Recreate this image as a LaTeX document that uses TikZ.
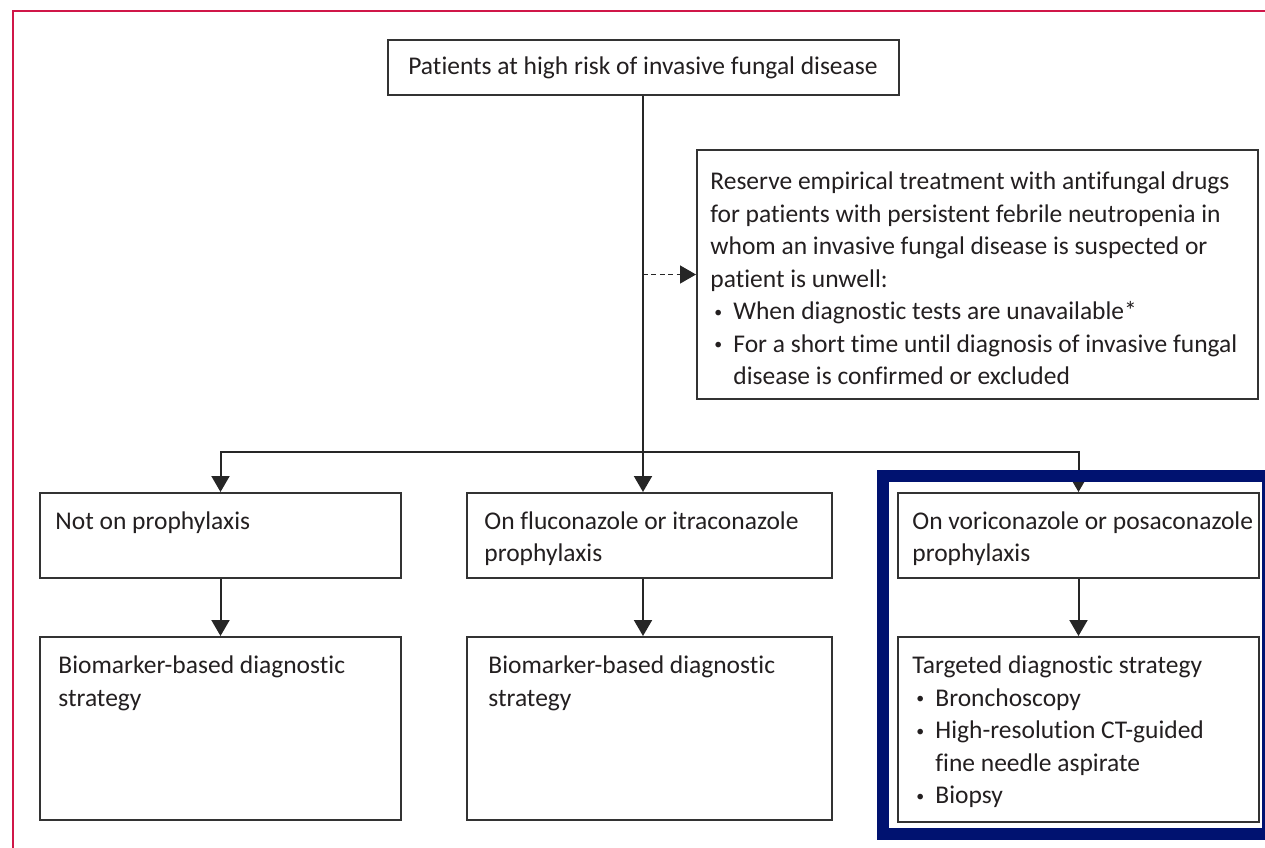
\documentclass[tikz,border=0pt]{standalone}
\usepackage{fontspec}
\setmainfont{Carlito}[Ligatures=NoCommon]
\usepackage{tikz}
\usetikzlibrary{arrows.meta}
\definecolor{lcred}{RGB}{208,22,72}
\definecolor{lcblue}{RGB}{0,18,112}
\definecolor{lcink}{RGB}{35,31,32}
\newcommand{\blt}{\makebox[11.5pt][l]{\hspace{2pt}\raisebox{1.3pt}{\scalebox{0.62}{\textbullet}}}}
\newcommand{\bltind}{\hspace*{11.5pt}}

\begin{document}
\begin{tikzpicture}[
    x=0.5pt, y=-0.5pt,
    box/.style={draw=black!80, line width=1pt, fill=white, inner sep=0pt},
    txt/.style={anchor=north west, inner sep=0pt, align=left, text=lcink,
      font=\fontsize{12.75}{16.25}\selectfont, execute at begin node=\strut},
    link/.style={draw=black!85, line width=1pt},
    arr/.style={link, -{Triangle[length=8pt, width=9pt]}},
    dasharr/.style={draw=black!85, line width=0.75pt, dash pattern=on 2.5pt off 1.7pt,
      -{Triangle[length=8pt, width=9pt]}},
    frame/.style={draw=lcred, line width=1pt},
    hilite/.style={draw=lcblue, line width=6pt}
  ]
  \useasboundingbox (0,0) rectangle (1265,847);
  \draw[frame] (12.5,900) |- (1300,10.5);

  % boxes
  \node[box, minimum width=255.5pt, minimum height=27.5pt, text=lcink,
    font=\fontsize{12.75}{16.25}\selectfont] (risk) at (643,67.5)
    {Patients at high risk of invasive fungal disease};
  \node[box, minimum width=280.5pt, minimum height=124.5pt] (reserve) at (977.5,274.5) {};
  \node[box, minimum width=180.5pt, minimum height=42.5pt] (nopro) at (220.5,535.5) {};
  \node[box, minimum width=182.5pt, minimum height=42.5pt] (fluco) at (649.5,535.5) {};
  \node[box, minimum width=180.5pt, minimum height=42.5pt] (vori) at (1078.5,535.5) {};
  \node[box, minimum width=180.5pt, minimum height=91.5pt] (bioa) at (220.5,728.5) {};
  \node[box, minimum width=182.5pt, minimum height=91.5pt] (biob) at (649.5,728.5) {};
  \node[box, minimum width=180.5pt, minimum height=92.5pt] (target) at (1078.5,729.5) {};

  % texts
  \node[txt] (reservetxt) at (710,171.5) {Reserve empirical treatment with antifungal drugs\\
    for patients with persistent febrile neutropenia in\\
    whom an invasive fungal disease is suspected or\\
    patient is unwell:\\
    \blt When diagnostic tests are unavailable*\\
    \blt For a short time until diagnosis of invasive fungal\\
    \bltind disease is confirmed or excluded};
  \node[txt] (noprotxt) at (55,506.25) {Not on prophylaxis};
  \node[txt] (flucotxt) at (484,511) {On fluconazole or itraconazole\\prophylaxis};
  \node[txt] (voritxt) at (912,511) {On voriconazole or posaconazole\\prophylaxis};
  \node[txt] (bioatxt) at (58,655.5) {Biomarker-based diagnostic\\strategy};
  \node[txt] (biobtxt) at (488,655.5) {Biomarker-based diagnostic\\strategy};
  \node[txt] (targettxt) at (912,655.5) {Targeted diagnostic strategy\\
    \blt Bronchoscopy\\
    \blt High-resolution CT-guided\\
    \bltind fine needle aspirate\\
    \blt Biopsy};

  % connectors
  \coordinate (split) at (643,452);
  \draw[arr] (risk.south) -- (risk.south |- fluco.north);
  \draw[arr] (split) -| (nopro.north);
  \draw[arr] (split) -| (vori.north);
  \draw[dasharr] (risk.south |- reserve.west) -- (reserve.west);
  \draw[arr] (nopro.south) -- (bioa.north);
  \draw[arr] (risk.south |- fluco.south) -- (risk.south |- biob.north);
  \draw[arr] (vori.south) -- (target.north);

  % highlight round the last column
  \draw[hilite] (883,476) rectangle (1268,834);
\end{tikzpicture}
\end{document}
